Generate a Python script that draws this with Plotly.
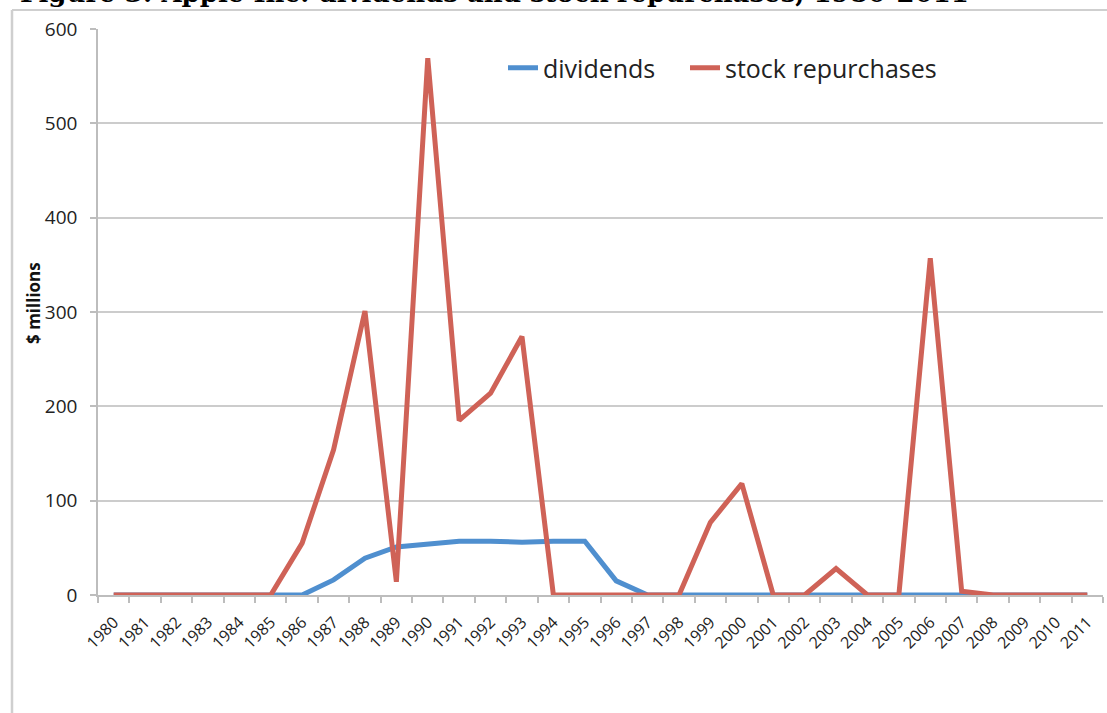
import plotly.graph_objects as go

years = [str(y) for y in range(1980, 2012)]
dividends = [0, 0, 0, 0, 0, 0, 0, 16, 39, 51, 54, 57, 57, 56, 57, 57,
             15, 0, 0, 0, 0, 0, 0, 0, 0, 0, 0, 0, 0, 0, 0, 0]
repurchases = [0, 0, 0, 0, 0, 0, 55, 154, 301, 14, 569, 185, 214, 274, 0, 0,
               0, 0, 0, 77, 118, 0, 0, 28, 0, 0, 357, 4, 0, 0, 0, 0]
y_ticks = [0, 100, 200, 300, 400, 500, 600]

W, H = 1107, 713
L, R, T, B = 98, 4, 29, 118
pw, ph = W - L - R, H - T - B

def px(x):
    return (x - L) / pw

def py(y):
    return (H - B - y) / ph

fig = go.Figure()
fig.add_trace(go.Scatter(x=years, y=dividends, mode="lines", name="dividends",
                         line=dict(color="#4f8fcf", width=5), legend="legend"))
fig.add_trace(go.Scatter(x=years, y=repurchases, mode="lines", name="stock repurchases",
                         line=dict(color="#cf6257", width=5), legend="legend2"))

leg_common = dict(orientation="h", xanchor="left", y=py(68), yanchor="middle",
                  font=dict(size=25, family="Open Sans", color="#222"),
                  bgcolor="rgba(0,0,0,0)", itemwidth=30)

fig.update_layout(
    width=W, height=H,
    margin=dict(l=L, r=R, t=T, b=B),
    paper_bgcolor="white", plot_bgcolor="white",
    font=dict(family="Open Sans", color="#222"),
    showlegend=True,
    legend=dict(x=px(503), **leg_common),
    legend2=dict(x=px(685), **leg_common),
    xaxis=dict(type="category", range=[-0.5, 31.5], tickson="boundaries",
               ticks="outside", ticklen=6, tickcolor="#bdbdbd", tickwidth=1.5,
               showline=True, linecolor="#bdbdbd", linewidth=1.5,
               showgrid=False, tickangle=-45, ticklabelstandoff=10,
               tickfont=dict(size=16, family="Open Sans", color="#222")),
    yaxis=dict(range=[0, 600], tickvals=y_ticks, ticks="outside", ticklen=6,
               tickcolor="#bdbdbd", tickwidth=1.5,
               showline=True, linecolor="#bdbdbd", linewidth=1.5,
               showgrid=True, gridcolor="#cccccc", gridwidth=1.5,
               zeroline=False, ticklabelstandoff=9,
               tickfont=dict(size=19, family="Open Sans", color="#222")),
)

fig.add_annotation(text="<b>$ millions</b>", textangle=-90, xref="paper", yref="paper",
                   x=px(33), y=py(303), showarrow=False, xanchor="center", yanchor="middle",
                   font=dict(size=17, family="Open Sans", color="#111"))

fig.add_annotation(text="<b>Figure 3: Apple Inc. dividends and stock repurchases, 1980-2011</b>",
                   xref="paper", yref="paper", x=px(18), y=py(10), showarrow=False,
                   xanchor="left", yanchor="bottom",
                   font=dict(size=26, family="DejaVu Serif", color="#000"))

# chart frame lines
fig.add_shape(type="line", xref="paper", yref="paper", x0=px(12), x1=px(1120),
              y0=py(10), y1=py(10), line=dict(color="#cfcfcf", width=2))
fig.add_shape(type="line", xref="paper", yref="paper", x0=px(12), x1=px(12),
              y0=py(10), y1=py(720), line=dict(color="#cfcfcf", width=2.5))

fig.write_html("out.html", config={"displayModeBar": False},
               post_script="document.body.style.margin='0';document.body.style.padding='0';")
